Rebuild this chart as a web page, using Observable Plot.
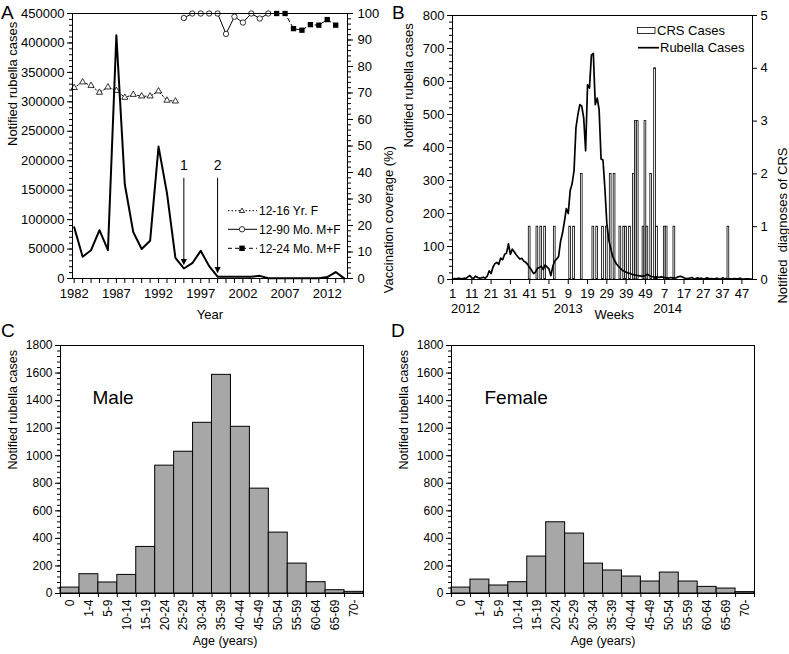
<!DOCTYPE html>
<html><head><meta charset="utf-8">
<script src="https://cdn.jsdelivr.net/npm/d3@7"></script>
<script src="https://cdn.jsdelivr.net/npm/@observablehq/plot@0.6"></script>
<style>
body{margin:0;background:#fff;}
#wrap{position:relative;width:789px;height:654px;background:#fff;font-family:"Liberation Sans",Arial,Helvetica,sans-serif;overflow:hidden;}
#wrap svg{position:absolute;}
</style></head><body><div id="wrap"></div>
<script>
// ---------- Panel A data ----------
const years = d3.range(1982, 2015);
const rubellaYearly = [87000,37000,48000,82000,48000,413000,160000,79000,50000,64000,224000,145000,35000,17000,26000,47000,21000,3000,3000,3000,3000,3000,4500,400,300,300,300,300,300,400,2400,11000,200];
const teenYears = d3.range(1982, 1995);
const teenCoverage = [72.0,74.1,72.8,70.2,72.2,70.9,68.3,69.4,68.8,68.8,70.7,67.2,66.9];
const childYears = d3.range(1995, 2006);
const childCoverage = [98.3,100,100,100,100,92.3,98.8,96.6,100,98.1,100];
const toddlerYears = d3.range(2006, 2014);
const toddlerCoverage = [100,100,94.3,93.7,95.8,95.6,97.7,95.6];
const arrowYears = [1995, 1999];
const arrowLabels = ["1", "2"];
const arrowFrom = [170000, 170000];
const arrowTo = [28900, 15300];
const arrowLabelAt = [192000, 192000];

// ---------- Panel B data ----------
const rubellaWeekly = [
 2,3,2,4,3,2,4,3,8,12,5,4,10,6,4,5,7,4,10,26,18,38,48,52,46,65,60,76,80,108,76,92,84,75,68,62,64,55,52,45,36,28,18,22,34,36,40,30,44,38,32,12,
 40,56,62,70,115,140,175,215,200,270,290,330,460,500,530,525,490,390,590,580,680,685,530,550,515,365,362,275,170,120,95,70,58,47,40,34,28,25,22,20,18,16,14,13,12,11,10,10,12,16,12,9,
 8,7,8,6,8,7,6,5,4,6,5,4,5,8,10,8,5,3,3,4,6,3,2,5,3,4,2,3,5,2,3,2,2,4,2,1,5,2,3,2,2,1,3,2,2,4,2,1,2,2,1,1];
const crsWeek  = [41,45,47,49,54,62,64,68,74,76,79,81,83,85,88,90,91,93,95,96,97,100,101,102,104,106,107,111,112,116,144];
const crsCount = [1, 1, 1, 1, 1, 1, 1, 2, 1, 1, 1, 1, 2, 2, 1, 1, 1, 1, 2, 3, 3, 1,  3,  1,  2,  4,  1,  1,  1,  1,  1];
const weekTicks = d3.range(1, 152, 10);
const yearNames = ["2012", "2013", "2014"];
const yearNameWeek = [7.7, 61, 112.5];

// ---------- Panels C / D data ----------
const ageGroups = ["0","1-4","5-9","10-14","15-19","20-24","25-29","30-34","35-39","40-44","45-49","50-54","55-59","60-64","65-69","70-"];
const maleCases = [43,140,80,135,338,928,1029,1239,1587,1210,761,442,217,82,24,12];
const femaleCases = [43,101,58,82,268,517,435,217,167,123,87,152,87,48,36,10];

// ---------- helpers ----------
const FONT = '"Liberation Sans", Arial, Helvetica, sans-serif';
const wrap = document.getElementById("wrap");
function place(svg, left, top) {
  svg.style.left = left + "px"; svg.style.top = top + "px";
  wrap.appendChild(svg);
}
const st = (fs) => ({fontFamily: FONT, fontSize: fs + "px", background: "transparent", color: "black", overflow: "visible"});
const downTri = {draw(ctx, size) { const s = Math.sqrt(size); ctx.moveTo(0, 0.6*s); ctx.lineTo(-0.5*s, -0.4*s); ctx.lineTo(0.5*s, -0.4*s); ctx.closePath(); }};
const txt = d => d;
const fmtInt = d3.format("d");

// ---------- Panel A ----------
const geomA = {width: 400, height: 330, marginLeft: 72, marginRight: 53, marginTop: 13, marginBottom: 52};
const xA = {type: "linear", domain: [1981.8, 2014.4], axis: null};
const caseRows = years.map((y, i) => ({year: y, cases: rubellaYearly[i]}));
const teenRows = teenYears.map((y, i) => ({year: y, cov: teenCoverage[i]}));
const childRows = childYears.map((y, i) => ({year: y, cov: childCoverage[i]}));
const toddlerRows = toddlerYears.map((y, i) => ({year: y, cov: toddlerCoverage[i]}));
const arrowRows = arrowYears.map((y, i) => ({year: y, from: arrowFrom[i], to: arrowTo[i], at: arrowLabelAt[i], label: arrowLabels[i]}));

const pA2 = Plot.plot({...geomA, style: st(13), x: xA, y: {domain: [0, 100], axis: null},
  marks: [
    Plot.axisY({anchor: "right", ticks: d3.range(0, 101, 2), tickSize: 3, tickFormat: () => "", label: null}),
    Plot.axisY({anchor: "right", ticks: d3.range(0, 101, 10), tickSize: 5, tickPadding: 5, tickFormat: fmtInt, label: null}),
    Plot.line(teenRows, {x: "year", y: "cov", stroke: "black", strokeWidth: 1, strokeDasharray: "1.5,2"}),
    Plot.dot(teenRows, {x: "year", y: "cov", symbol: "triangle", r: 2.3, fill: "white", stroke: "black", strokeWidth: 0.8}),
    Plot.line(childRows, {x: "year", y: "cov", stroke: "black", strokeWidth: 1}),
    Plot.dot(childRows, {x: "year", y: "cov", symbol: "circle", r: 2.7, fill: "white", stroke: "black", strokeWidth: 0.8}),
    Plot.line(toddlerRows, {x: "year", y: "cov", stroke: "black", strokeWidth: 1, strokeDasharray: "4,3"}),
    Plot.dot(toddlerRows, {x: "year", y: "cov", symbol: "square", r: 3, fill: "black"}),
    Plot.text(["Vaccination coverage (%)"], {text: txt, frameAnchor: "right", rotate: -90, dx: 41, fontSize: 13})
  ]});
place(pA2, 0, 0);

const pA1 = Plot.plot({...geomA, style: st(13), x: xA, y: {domain: [0, 450000], axis: null},
  marks: [
    Plot.axisY({ticks: d3.range(0, 450001, 10000), tickSize: 3, tickFormat: () => "", label: null}),
    Plot.axisY({ticks: d3.range(0, 450001, 50000), tickSize: 5, tickPadding: 3, tickFormat: fmtInt, label: null}),
    Plot.axisX({ticks: years, tickSize: 5, tickPadding: 5, tickFormat: d => (d - 1982) % 5 === 0 ? String(d) : "", label: null}),
    Plot.frame({stroke: "black"}),
    Plot.line(caseRows, {x: "year", y: "cases", stroke: "black", strokeWidth: 2}),
    Plot.ruleX(arrowRows, {x: "year", y1: "from", y2: "to", stroke: "black", strokeWidth: 1}),
    Plot.dot(arrowRows, {x: "year", y: "to", symbol: downTri, r: 3.5, fill: "black"}),
    Plot.text(arrowRows, {x: "year", y: "at", text: "label", fontSize: 14}),
    Plot.text(["Notified rubella cases"], {text: txt, frameAnchor: "left", rotate: -90, dx: -60, fontSize: 13}),
    Plot.text(["Year"], {text: txt, frameAnchor: "bottom", dy: 40, fontSize: 13})
  ]});
place(pA1, 0, 0);

// ---------- Panel B ----------
const geomB = {width: 399, height: 330, marginLeft: 62, marginRight: 37, marginTop: 15, marginBottom: 51};
const xB = {type: "linear", domain: [1, 156.5], axis: null};
const crsRows = crsWeek.map((w, i) => ({w, n: crsCount[i]}));
const weekRows = rubellaWeekly.map((v, i) => ({t: i + 1, v}));
const yearRows = yearNames.map((s, i) => ({s, t: yearNameWeek[i]}));

const pB2 = Plot.plot({...geomB, style: st(13), x: xB, y: {domain: [0, 5], axis: null},
  marks: [
    Plot.axisY({anchor: "right", ticks: d3.range(0, 6), tickSize: 4, tickPadding: 4, tickFormat: fmtInt, label: null}),
    Plot.rectY(crsRows, {x1: d => d.w - 0.45, x2: d => d.w + 0.45, y: "n", fill: "white", stroke: "black", strokeWidth: 0.8}),
    Plot.text(["Notified  diagnoses of CRS"], {text: txt, frameAnchor: "right", rotate: -90, dx: 30, fontSize: 13})
  ]});
place(pB2, 390, 0);

const pB1 = Plot.plot({...geomB, style: st(13), x: xB, y: {domain: [0, 800], axis: null},
  marks: [
    Plot.axisY({ticks: d3.range(0, 801, 20), tickSize: 3, tickFormat: () => "", label: null}),
    Plot.axisY({ticks: d3.range(0, 801, 100), tickSize: 5, tickPadding: 3, tickFormat: fmtInt, label: null}),
    Plot.axisX({ticks: weekTicks, tickSize: 5, tickPadding: 4, tickFormat: t => String((t - 1) % 52 + 1), label: null}),
    Plot.frame({stroke: "black"}),
    Plot.line(weekRows, {x: "t", y: "v", stroke: "black", strokeWidth: 1.7}),
    Plot.text(yearRows, {x: "t", text: "s", frameAnchor: "bottom", dy: 33, fontSize: 13}),
    Plot.text(["Weeks"], {text: txt, x: 84.8, frameAnchor: "bottom", dy: 39, fontSize: 13}),
    Plot.text(["Notified rubella cases"], {text: txt, frameAnchor: "left", rotate: -90, dx: -44, fontSize: 13})
  ]});
place(pB1, 390, 0);

// ---------- Panels C & D ----------
function agePlot(values, title, left, width, marginLeft, marginRight, titleDx, xTitleDx) {
  const rows = ageGroups.map((g, i) => ({i, n: values[i]}));
  const p = Plot.plot({width, height: 334, marginLeft, marginRight, marginTop: 25, marginBottom: 61, style: st(12),
    x: {type: "linear", domain: [0, 16], axis: null}, y: {domain: [0, 1800], axis: null},
    marks: [
      Plot.rectY(rows, {x1: "i", x2: d => d.i + 1, y: "n", fill: "#a7a7a7", stroke: "black", strokeWidth: 1}),
      Plot.axisY({ticks: d3.range(0, 1801, 40), tickSize: 3, tickFormat: () => "", label: null}),
      Plot.axisY({ticks: d3.range(0, 1801, 200), tickSize: 5, tickPadding: 3, tickFormat: fmtInt, label: null}),
      Plot.axisX({ticks: d3.range(0, 17), tickSize: 4, tickFormat: () => "", label: null}),
      Plot.axisX({ticks: d3.range(16).map(i => i + 0.5), tickSize: 0, tickPadding: 6, tickRotate: -90, fontSize: 12, tickFormat: v => ageGroups[Math.floor(v)], label: null}),
      Plot.frame({stroke: "black"}),
      Plot.text([title], {text: txt, frameAnchor: "top-left", textAnchor: "start", dx: titleDx, dy: 45, fontSize: 19}),
      Plot.text(["Notified rubella cases"], {text: txt, frameAnchor: "left", rotate: -90, dx: -48, fontSize: 12.5}),
      Plot.text(["Age (years)"], {text: txt, frameAnchor: "bottom", dx: xTitleDx, dy: 51, fontSize: 12.5})
    ]});
  place(p, left, 320);
}
agePlot(maleCases, "Male", 0, 390, 60, 27, 32, 13);
agePlot(femaleCases, "Female", 390, 399, 61, 35, 33, 0);

// ---------- panel letters and legends ----------
const ns = "http://www.w3.org/2000/svg";
const over = document.createElementNS(ns, "svg");
over.setAttribute("width", 789); over.setAttribute("height", 654);
over.style.left = "0px"; over.style.top = "0px";
over.setAttribute("font-family", FONT);
over.innerHTML = `
<text x="1" y="19" font-size="19">A</text>
<text x="392" y="19" font-size="19">B</text>
<text x="1" y="337" font-size="19">C</text>
<text x="391" y="337" font-size="19">D</text>
<g font-size="12" fill="black">
 <line x1="228" x2="257" y1="210.7" y2="210.7" stroke="black" stroke-dasharray="1.5,2"/>
 <path d="M242,208L244.6,212.5L239.4,212.5Z" fill="white" stroke="black" stroke-width="0.8"/>
 <text x="259" y="215">12-16 Yr. F</text>
 <line x1="228" x2="257" y1="229.3" y2="229.3" stroke="black"/>
 <circle cx="242" cy="229.3" r="2.7" fill="white" stroke="black" stroke-width="0.8"/>
 <text x="259" y="233.6">12-90 Mo. M+F</text>
 <line x1="228" x2="257" y1="248.3" y2="248.3" stroke="black" stroke-dasharray="4,3"/>
 <rect x="239.3" y="245.6" width="5.4" height="5.4" fill="black"/>
 <text x="259" y="252.6">12-24 Mo. M+F</text>
</g>
<g font-size="13" fill="black">
 <rect x="637.5" y="27.5" width="17.5" height="6" fill="white" stroke="black" stroke-width="0.8"/>
 <text x="657" y="35">CRS Cases</text>
 <line x1="638" x2="659" y1="47.7" y2="47.7" stroke="black" stroke-width="1.7"/>
 <text x="660" y="52.3">Rubella Cases</text>
</g>`;
wrap.appendChild(over);
</script></body></html>
